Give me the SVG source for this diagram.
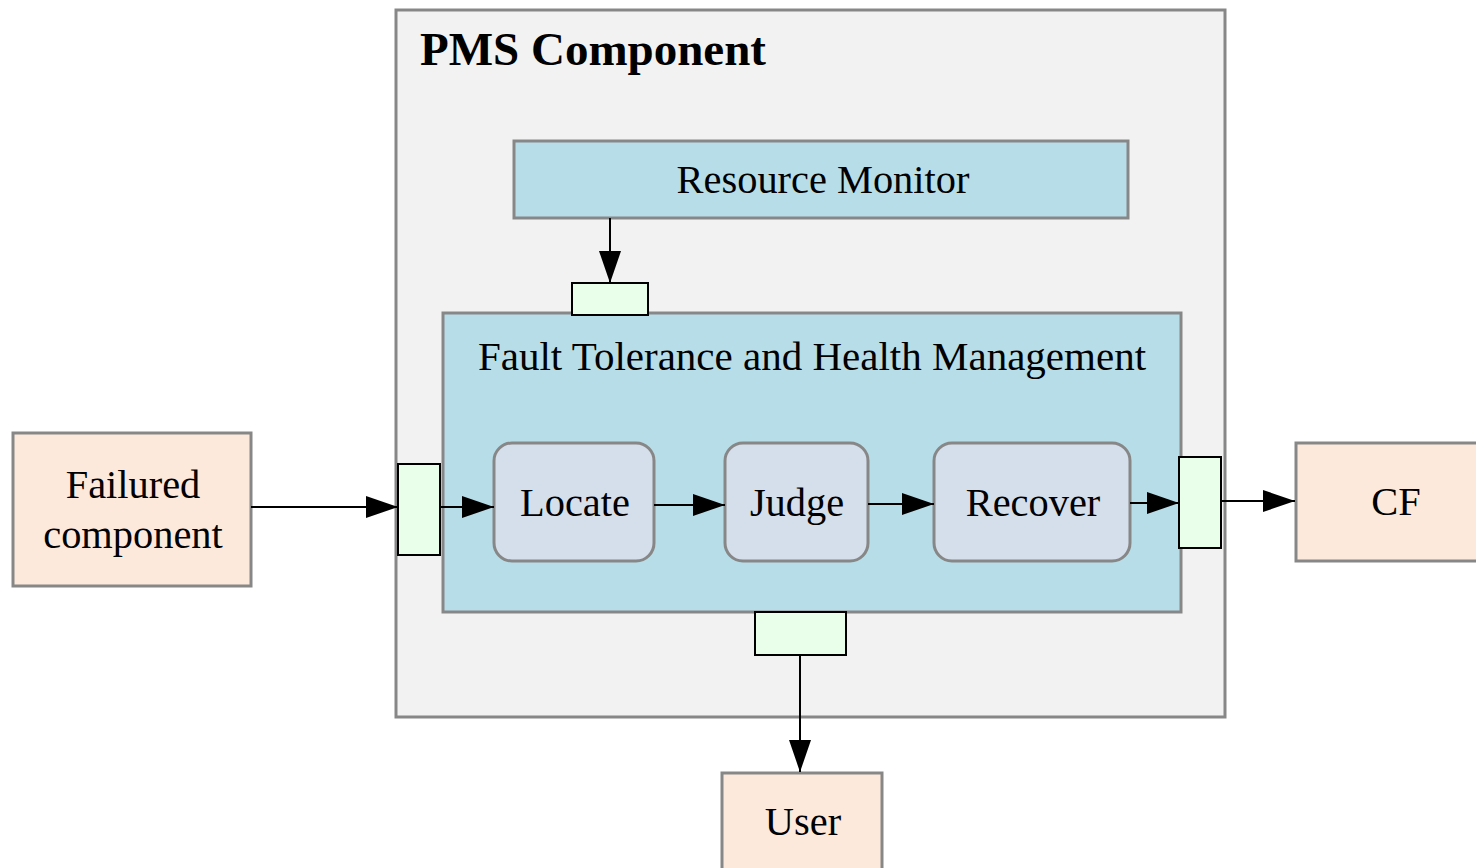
<svg xmlns="http://www.w3.org/2000/svg" width="1476" height="868" viewBox="0 0 1476 868">
<defs>
<marker id="ah" markerUnits="userSpaceOnUse" markerWidth="34" markerHeight="24" refX="32" refY="11" orient="auto">
<path d="M0,0 L32,11 L0,22 Z" fill="#000"/>
</marker>
<style>
.box{stroke:#878787;stroke-width:3}
.port{fill:#eaffea;stroke:#000;stroke-width:2}
.ext{fill:#fce9dc}
.proc{fill:#d5dfeb}
.blue{fill:#b7dde8}
.t{font-family:"Liberation Serif",serif;font-size:40.4px;fill:#000;text-anchor:middle}
.conn{stroke:#000;stroke-width:2;fill:none;marker-end:url(#ah)}
</style>
</defs>
<rect width="1476" height="868" fill="#fff"/>
<g id="pms">
<rect class="box" x="396" y="10" width="829" height="707" fill="#f2f2f2"/>
<text x="420" y="65" font-family="Liberation Serif,serif" font-size="47" font-weight="bold">PMS Component</text>
</g>
<g id="resource-monitor">
<rect class="box blue" x="514" y="141" width="614" height="77"/>
<text class="t" x="823" y="193">Resource Monitor</text>
</g>
<g id="fthm">
<rect class="box blue" x="443" y="313" width="738" height="299"/>
<text class="t" x="812" y="370" style="font-size:41px">Fault Tolerance and Health Management</text>
</g>
<g id="port-top"><rect class="port" x="572" y="283" width="76" height="32"/></g>
<g id="port-left"><rect class="port" x="398" y="464" width="42" height="91"/></g>
<g id="port-right"><rect class="port" x="1179" y="457" width="42" height="91"/></g>
<g id="port-bottom"><rect class="port" x="755" y="612" width="91" height="43"/></g>
<g id="locate">
<rect class="box proc" x="494" y="443" width="160" height="118" rx="18"/>
<text class="t" x="575" y="516">Locate</text>
</g>
<g id="judge">
<rect class="box proc" x="725" y="443" width="143" height="118" rx="18"/>
<text class="t" x="797" y="516">Judge</text>
</g>
<g id="recover">
<rect class="box proc" x="934" y="443" width="196" height="118" rx="18"/>
<text class="t" x="1033" y="516">Recover</text>
</g>
<g id="failured">
<rect class="box ext" x="13" y="433" width="238" height="153"/>
<text class="t" x="133" y="498">Failured</text>
<text class="t" x="133" y="548">component</text>
</g>
<g id="cf">
<rect class="box ext" x="1296" y="443" width="184" height="118"/>
<text class="t" x="1396" y="515">CF</text>
</g>
<g id="user">
<rect class="box ext" x="722" y="773" width="160" height="100"/>
<text class="t" x="803" y="835">User</text>
</g>
<g id="connectors">
<line class="conn" x1="610" y1="218" x2="610" y2="283"/>
<line class="conn" x1="251" y1="507" x2="398" y2="507"/>
<line class="conn" x1="440" y1="507" x2="494" y2="507"/>
<line class="conn" x1="654" y1="505" x2="725" y2="505"/>
<line class="conn" x1="868" y1="504" x2="934" y2="504"/>
<line class="conn" x1="1130" y1="503" x2="1179" y2="503"/>
<line class="conn" x1="1221" y1="501" x2="1295" y2="501"/>
<line class="conn" x1="800" y1="655" x2="800" y2="772"/>
</g>
</svg>
